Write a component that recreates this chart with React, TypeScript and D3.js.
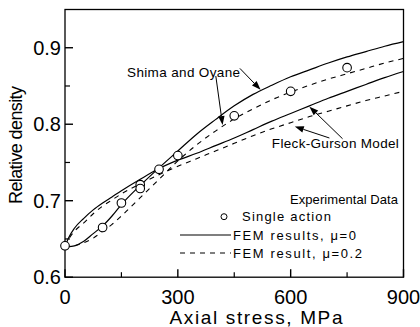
import React from "react";
import * as d3 from "d3";

// ---- data ----
const stressGrid = [0, 10, 25, 50, 75, 100, 125, 150, 200, 250, 300, 350, 400, 450, 500, 550, 600, 650, 700, 750, 800, 850, 900];
const shimaFem0 = [0.640, 0.640, 0.641, 0.647, 0.657, 0.667, 0.680, 0.695, 0.720, 0.743, 0.765, 0.787, 0.806, 0.824, 0.839, 0.851, 0.862, 0.871, 0.880, 0.888, 0.895, 0.902, 0.908];
const shimaFem02 = [0.640, 0.640, 0.641, 0.645, 0.651, 0.660, 0.669, 0.680, 0.704, 0.728, 0.752, 0.773, 0.791, 0.807, 0.820, 0.832, 0.842, 0.851, 0.859, 0.866, 0.873, 0.880, 0.886];
const fleckFem0 = [0.640, 0.652, 0.664, 0.677, 0.688, 0.697, 0.705, 0.713, 0.728, 0.742, 0.753, 0.762, 0.772, 0.782, 0.793, 0.804, 0.814, 0.824, 0.834, 0.843, 0.852, 0.861, 0.869];
const fleckFem02 = [0.640, 0.650, 0.660, 0.671, 0.683, 0.693, 0.701, 0.709, 0.722, 0.734, 0.745, 0.755, 0.765, 0.775, 0.785, 0.794, 0.802, 0.810, 0.817, 0.824, 0.831, 0.837, 0.843];

const expStress = [0, 100, 150, 200, 200, 250, 300, 450, 600, 750];
const expDensity = [0.641, 0.665, 0.697, 0.721, 0.716, 0.741, 0.759, 0.811, 0.843, 0.874];

const xMajorTicks = [0, 300, 600, 900];
const xMinorTicks = [150, 450, 750];
const yMajorTicks = [0.6, 0.7, 0.8, 0.9];
const yMinorTicks = [0.65, 0.75, 0.85];

// annotation arrows in data units: [fromX, fromY, tipX, tipY]
const arrows = [
  [465, 0.873, 520, 0.845],
  [401, 0.863, 419, 0.799],
  [738, 0.781, 650, 0.823],
  [703, 0.782, 611, 0.797],
];

const W = 420;
const H = 327;
const left = 65, right = 403.5, top = 9.5, bottom = 277.2;
const FONT = "'Liberation Sans', Arial, Helvetica, sans-serif";

export default function App() {
  const x = d3.scaleLinear().domain([0, 900]).range([left, right]);
  const y = d3.scaleLinear().domain([0.6, 0.95]).range([bottom, top]);

  const line = (vals: number[]) =>
    d3
      .line<number>()
      .x((_, i) => x(stressGrid[i]))
      .y((v) => y(v))
      .curve(d3.curveMonotoneX)(vals) || "";

  const arrowHead = (fx: number, fy: number, tx: number, ty: number) => {
    const x1 = x(fx), y1 = y(fy), x2 = x(tx), y2 = y(ty);
    const ang = Math.atan2(y2 - y1, x2 - x1);
    const L = 9, Wd = 3.2;
    const bx = x2 - L * Math.cos(ang), by = y2 - L * Math.sin(ang);
    const px = -Math.sin(ang) * Wd, py = Math.cos(ang) * Wd;
    return {
      line: `M${x1},${y1}L${bx},${by}`,
      head: `M${x2},${y2}L${bx + px},${by + py}L${bx - px},${by - py}Z`,
    };
  };

  return (
    <div style={{ position: "absolute", left: 0, top: 0 }}>
      <svg width={W} height={H} style={{ display: "block", background: "#fff" }}>
        {/* frame */}
        <rect x={left} y={top} width={right - left} height={bottom - top} fill="none" stroke="#000" strokeWidth={1.3} />
        {/* y ticks */}
        {yMajorTicks.map((t) => (
          <line key={"ym" + t} x1={left} x2={left + 8} y1={y(t)} y2={y(t)} stroke="#000" strokeWidth={1.4} />
        ))}
        {yMinorTicks.map((t) => (
          <line key={"yn" + t} x1={left} x2={left + 5} y1={y(t)} y2={y(t)} stroke="#000" strokeWidth={1.2} />
        ))}
        {yMajorTicks.map((t) => (
          <text key={"yl" + t} x={left - 4} y={y(t)} textAnchor="end" dominantBaseline="central" fontFamily={FONT} fontSize={20}>
            {t.toFixed(1)}
          </text>
        ))}
        {/* x ticks */}
        {xMajorTicks.map((t) => (
          <line key={"xm" + t} x1={x(t)} x2={x(t)} y1={bottom} y2={bottom - 8} stroke="#000" strokeWidth={1.4} />
        ))}
        {xMinorTicks.map((t) => (
          <line key={"xn" + t} x1={x(t)} x2={x(t)} y1={bottom} y2={bottom - 5} stroke="#000" strokeWidth={1.2} />
        ))}
        {xMajorTicks.map((t) => (
          <text key={"xl" + t} x={x(t)} y={297} textAnchor="middle" dominantBaseline="central" fontFamily={FONT} fontSize={20}>
            {t}
          </text>
        ))}
        {/* axis titles */}
        <text x={256} y={317} textAnchor="middle" dominantBaseline="central" fontFamily={FONT} fontSize={19} textLength={173} lengthAdjust="spacing">
          Axial stress, MPa
        </text>
        <text transform="translate(16,145) rotate(-90)" textAnchor="middle" dominantBaseline="central" fontFamily={FONT} fontSize={18} textLength={118} lengthAdjust="spacing">
          Relative density
        </text>

        {/* curves */}
        <path d={line(shimaFem0)} fill="none" stroke="#000" strokeWidth={1.2} />
        <path d={line(fleckFem0)} fill="none" stroke="#000" strokeWidth={1.2} />
        <path d={line(shimaFem02)} fill="none" stroke="#000" strokeWidth={1.1} strokeDasharray="5,5" />
        <path d={line(fleckFem02)} fill="none" stroke="#000" strokeWidth={1.1} strokeDasharray="5,5" />

        {/* experimental points */}
        {expStress.map((s, i) => (
          <circle key={"p" + i} cx={x(s)} cy={y(expDensity[i])} r={4.3} fill="#fff" stroke="#000" strokeWidth={1.1} />
        ))}

        {/* annotations */}
        {arrows.map((a, i) => {
          const g = arrowHead(a[0], a[1], a[2], a[3]);
          return (
            <g key={"a" + i}>
              <path d={g.line} stroke="#000" strokeWidth={1} fill="none" />
              <path d={g.head} fill="#000" />
            </g>
          );
        })}
        <text x={x(165)} y={y(0.868)} dominantBaseline="central" fontFamily={FONT} fontSize={13.5} textLength={113} lengthAdjust="spacing">
          Shima and Oyane
        </text>
        <text x={x(550)} y={y(0.775)} dominantBaseline="central" fontFamily={FONT} fontSize={13.5} textLength={127} lengthAdjust="spacing">
          Fleck-Gurson Model
        </text>

        {/* legend */}
        <text x={290} y={199} dominantBaseline="central" fontFamily={FONT} fontSize={13} textLength={108} lengthAdjust="spacing">
          Experimental Data
        </text>
        <circle cx={224} cy={216.7} r={3} fill="#fff" stroke="#000" strokeWidth={1} />
        <text x={242} y={216.7} dominantBaseline="central" fontFamily={FONT} fontSize={13} textLength={89} lengthAdjust="spacing">
          Single action
        </text>
        <line x1={180} x2={231} y1={235} y2={235} stroke="#000" strokeWidth={1.1} />
        <text x={233} y={235} dominantBaseline="central" fontFamily={FONT} fontSize={13} textLength={123} lengthAdjust="spacing">
          FEM results, μ=0
        </text>
        <line x1={180} x2={231} y1={253} y2={253} stroke="#000" strokeWidth={1.1} strokeDasharray="5,5" />
        <text x={233} y={253} dominantBaseline="central" fontFamily={FONT} fontSize={13} textLength={129} lengthAdjust="spacing">
          FEM result, μ=0.2
        </text>
      </svg>
    </div>
  );
}
